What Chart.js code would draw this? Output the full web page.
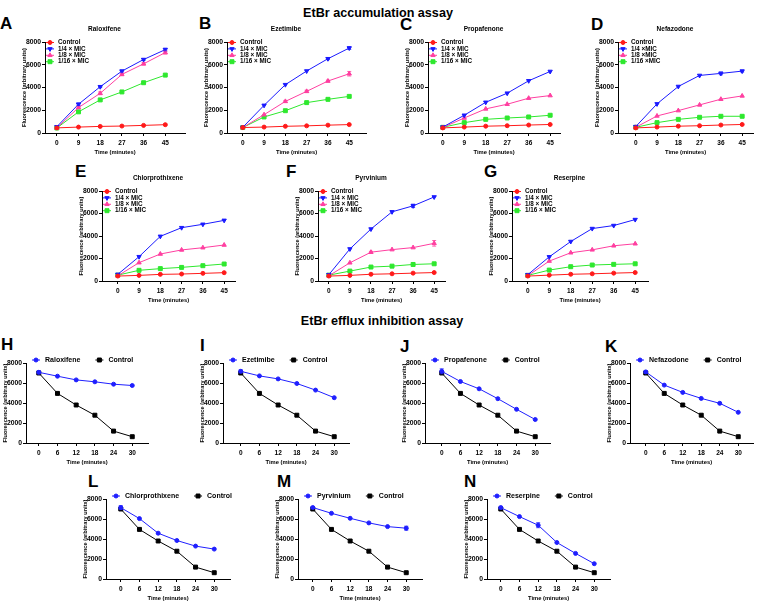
<!DOCTYPE html>
<html>
<head>
<meta charset="utf-8">
<script src="https://cdn.jsdelivr.net/npm/chart.js@4.4.1/dist/chart.umd.min.js"></script>
<style>
  body { margin: 0; background: #fff; width: 760px; height: 603px; position: relative; overflow: hidden;
         font-family: "Liberation Sans", Arial, sans-serif; }
  .t { position: absolute; font-weight: bold; color: #000; white-space: nowrap; line-height: 1; }
  .sec { font-size: 12.6px; transform: translateX(-50%); }
  .letter { font-size: 17px; }
  canvas { position: absolute; }
</style>
</head>
<body>
<div class="t sec" style="left:378px;top:7px">EtBr accumulation assay</div>
<div class="t sec" style="left:382px;top:315px">EtBr efflux inhibition assay</div>

<script>
// ---- data ----
const accTime = [0, 9, 18, 27, 36, 45];
const effTime = [0, 6, 12, 18, 24, 30];
const yTicks = [0, 2000, 4000, 6000, 8000];

const accNames = ['Control', '1/4 × MIC', '1/8 × MIC', '1/16 × MIC'];
const accNamesD = ['Control', '1/4 ×MIC', '1/8 ×MIC', '1/16 ×MIC'];

// rows: control, 1/4, 1/8, 1/16 MIC
const raloxifeneAcc = [
  [450, 520, 580, 610, 670, 730],
  [550, 2530, 4070, 5440, 6460, 7330],
  [450, 2240, 3490, 5150, 6080, 7070],
  [440, 1860, 2910, 3610, 4420, 5090]
];
const ezetimibeAcc = [
  [480, 520, 590, 630, 690, 740],
  [500, 2430, 4250, 5450, 6530, 7470],
  [480, 1610, 2780, 3660, 4570, 5210],
  [480, 1410, 1960, 2670, 2960, 3220]
];
const propafenoneAcc = [
  [450, 520, 600, 640, 700, 750],
  [520, 1560, 2700, 3500, 4590, 5410],
  [480, 1320, 2120, 2530, 3060, 3290],
  [500, 910, 1200, 1320, 1410, 1560]
];
const nefazodoneAcc = [
  [450, 520, 600, 640, 700, 750],
  [560, 2560, 4090, 5060, 5240, 5440],
  [500, 1500, 1970, 2470, 2970, 3260],
  [500, 910, 1200, 1380, 1470, 1470]
];
const chlorprothixeneAcc = [
  [440, 500, 590, 620, 680, 740],
  [590, 2160, 3970, 4740, 5040, 5390],
  [460, 1630, 2400, 2760, 2960, 3200],
  [520, 950, 1100, 1210, 1360, 1510]
];
const pyrviniumAcc = [
  [440, 500, 600, 640, 700, 750],
  [560, 2850, 4620, 6150, 6680, 7470],
  [460, 1620, 2560, 2790, 2970, 3350],
  [520, 880, 1240, 1320, 1470, 1530]
];
const reserpineAcc = [
  [440, 520, 600, 640, 700, 750],
  [560, 2150, 3510, 4660, 4930, 5460],
  [470, 1770, 2510, 2770, 3130, 3310],
  [500, 970, 1270, 1420, 1480, 1530]
];

// visible error bars (SD), same row order
const raloxifeneAccErr = [[0, 0, 0, 0, 0, 60], [0, 100, 80, 80, 80, 120], [0, 80, 120, 100, 100, 120], [0, 0, 0, 0, 0, 0]];
const ezetimibeAccErr = [[0, 0, 0, 0, 0, 0], [0, 0, 0, 0, 80, 120], [0, 0, 80, 100, 80, 200], [0, 0, 0, 0, 0, 0]];
const nefazodoneAccErr = [[0, 0, 0, 0, 0, 0], [0, 0, 0, 0, 120, 80], [0, 0, 0, 0, 0, 0], [0, 0, 0, 0, 0, 80]];
const pyrviniumAccErr = [[0, 0, 0, 0, 0, 0], [0, 0, 0, 0, 150, 0], [0, 0, 80, 0, 0, 250], [0, 0, 0, 0, 0, 0]];

const effControl = [7000, 4960, 3800, 2780, 1190, 630];
const raloxifeneEff = [7070, 6680, 6310, 6120, 5880, 5750];
const ezetimibeEff = [7170, 6710, 6410, 5950, 5290, 4530];
const propafenoneEff = [7170, 6150, 5420, 4430, 3370, 2350];
const nefazodoneEff = [7110, 5790, 5060, 4460, 3970, 3070];
const chlorprothixeneEff = [7140, 6040, 4580, 3850, 3290, 2990];
const pyrviniumEff = [7150, 6570, 6070, 5610, 5240, 5080];
const reserpineEff = [7140, 6240, 5380, 3650, 2560, 1530];

const raloxifeneEffErr = [150, 0, 0, 0, 0, 0];
const ezetimibeEffErr = [150, 0, 0, 0, 0, 0];
const propafenoneEffErr = [250, 0, 0, 0, 0, 0];
const nefazodoneEffErr = [120, 0, 0, 0, 0, 0];
const chlorprothixeneEffErr = [200, 0, 0, 0, 0, 0];
const pyrviniumEffErr = [100, 0, 0, 0, 0, 200];
const reserpineEffErr = [120, 0, 250, 0, 0, 0];

// ---- styles ----
const FONT = "'Liberation Sans', Arial, sans-serif";
Chart.defaults.font.family = FONT;
Chart.defaults.font.weight = 'bold';
Chart.defaults.color = '#000';

const accStyles = [
  { color: '#ff1a1a', pointStyle: 'circle', radius: 2, rotation: 0 },
  { color: '#1a1aff', pointStyle: 'triangle', radius: 2.5, rotation: 180 },
  { color: '#ff3fa0', pointStyle: 'triangle', radius: 2.5, rotation: 0 },
  { color: '#2ee82e', pointStyle: 'rect', radius: 2.8, rotation: 0 }
];
const effStyles = [
  { color: '#1f1fff', pointStyle: 'circle', radius: 2, rotation: 0 },
  { color: '#000000', pointStyle: 'rect', radius: 2.8, rotation: 0 }
];

// error bars from dataset.errors, in data units
const errorBars = {
  id: 'errorBars',
  afterDatasetsDraw(chart) {
    const ctx = chart.ctx, y = chart.scales.y;
    ctx.save();
    chart.data.datasets.forEach((ds, i) => {
      if (!ds.errors) return;
      chart.getDatasetMeta(i).data.forEach((pt, j) => {
        const e = ds.errors[j];
        if (!e) return;
        const v = ds.data[j].y;
        const top = y.getPixelForValue(v + e), bot = y.getPixelForValue(v - e);
        ctx.strokeStyle = ds.borderColor;
        ctx.lineWidth = 0.8;
        ctx.beginPath();
        ctx.moveTo(pt.x, top); ctx.lineTo(pt.x, bot);
        ctx.moveTo(pt.x - 2, top); ctx.lineTo(pt.x + 2, top);
        ctx.moveTo(pt.x - 2, bot); ctx.lineTo(pt.x + 2, bot);
        ctx.stroke();
      });
    });
    ctx.restore();
  }
};

// legend drawn inside / above the plot like the GraphPad original
const panelLegend = {
  id: 'panelLegend',
  afterDraw(chart, args, opts) {
    const ctx = chart.ctx, area = chart.chartArea;
    ctx.save();
    ctx.font = 'bold ' + opts.size + 'px ' + FONT;
    ctx.textBaseline = 'middle';
    let x = area.left + opts.x;
    let y = area.top + opts.y;
    chart.data.datasets.forEach(ds => {
      ctx.strokeStyle = ds.borderColor;
      ctx.fillStyle = ds.backgroundColor;
      ctx.lineWidth = ds.borderWidth;
      ctx.beginPath();
      ctx.moveTo(x - opts.half, y);
      ctx.lineTo(x + opts.half, y);
      ctx.stroke();
      Chart.helpers.drawPoint(ctx, {
        pointStyle: ds.pointStyle, radius: ds.pointRadius, rotation: ds.pointRotation, borderWidth: 1
      }, x, y);
      ctx.fillStyle = '#000';
      ctx.fillText(ds.label, x + opts.gap, y);
      if (opts.horizontal) {
        x += opts.gap + ctx.measureText(ds.label).width + opts.spacing;
      } else {
        y += opts.dy;
      }
    });
    ctx.restore();
  }
};

const YW = 23, XH = 22;

function addLetter(ch, left, top) {
  const d = document.createElement('div');
  d.className = 't letter';
  d.style.left = left + 'px';
  d.style.top = top + 'px';
  d.textContent = ch;
  document.body.appendChild(d);
}

function makeDataset(label, values, st, errors) {
  return {
    label: label, data: values, errors: errors, borderColor: st.color, backgroundColor: st.color,
    borderWidth: 1, pointStyle: st.pointStyle, pointRadius: st.radius, pointRotation: st.rotation,
    pointBorderWidth: 1, tension: 0
  };
}

function drawPanel(p, times, datasets, topSpace, title, legendOpts) {
  const last = times[times.length - 1];
  const perPx = last / (p.last - p.first);
  const xmin = -(p.first - p.axis) * perPx;
  const xmax = last + (p.right - p.last) * perPx;

  const c = document.createElement('canvas');
  const left = p.axis - YW, top = p.top - topSpace;
  c.width = p.right - left + 3;
  c.height = p.bottom - top + XH + 1;
  c.style.left = left + 'px';
  c.style.top = top + 'px';
  document.body.appendChild(c);

  new Chart(c, {
    type: 'line',
    data: { datasets: datasets.map(d => Object.assign(d, { data: d.data.map((v, i) => ({ x: times[i], y: v })) })) },
    options: {
      responsive: false, animation: false, devicePixelRatio: 1,
      layout: { padding: { top: title ? 0 : topSpace, right: 3, bottom: 1, left: 0 } },
      plugins: {
        legend: { display: false },
        tooltip: { enabled: false },
        title: title ? {
          display: true, text: title,
          font: { size: 6.5, weight: 'bold', lineHeight: 1.2 },
          padding: { top: 0, bottom: topSpace - 7.8 }
        } : { display: false },
        panelLegend: legendOpts
      },
      scales: {
        x: {
          type: 'linear', min: xmin, max: xmax,
          afterBuildTicks: s => { s.ticks = times.map(v => ({ value: v })); },
          afterFit: s => { s.height = XH; },
          grid: { drawOnChartArea: false, tickLength: 3, color: '#000', lineWidth: 1 },
          border: { color: '#000', width: 1 },
          ticks: { font: { size: 6.5, weight: 'bold' }, padding: 3, maxRotation: 0, autoSkip: false },
          title: { display: true, text: 'Time (minutes)', font: { size: 5.8, weight: 'bold', lineHeight: 1 }, padding: 0 }
        },
        y: {
          min: 0, max: 8000,
          afterBuildTicks: s => { s.ticks = yTicks.map(v => ({ value: v })); },
          afterFit: s => { s.width = YW; },
          grid: { drawOnChartArea: false, tickLength: 3, color: '#000', lineWidth: 1 },
          border: { color: '#000', width: 1 },
          ticks: { font: { size: 6.8, weight: 'bold' }, padding: 1, callback: v => String(v) },
          title: { display: true, text: 'Fluorescence (arbitrary units)', font: { size: 5.6, weight: 'bold', lineHeight: 1 }, padding: 0 }
        }
      }
    },
    plugins: [errorBars, panelLegend]
  });
}

// ---- layout (pixel geometry of each plot) ----
const accPanels = [
  { letter: 'A', lx: 0,   ly: 15,  title: 'Raloxifene',      values: raloxifeneAcc,      errors: raloxifeneAccErr, names: accNames,  axis: 45,  top: 42,  bottom: 133, first: 57,  last: 167, right: 187 },
  { letter: 'B', lx: 199, ly: 15,  title: 'Ezetimibe',       values: ezetimibeAcc,       errors: ezetimibeAccErr,  names: accNames,  axis: 227, top: 42,  bottom: 133, first: 243, last: 351, right: 368 },
  { letter: 'C', lx: 400, ly: 16,  title: 'Propafenone',     values: propafenoneAcc,     errors: null,             names: accNames,  axis: 428, top: 42,  bottom: 133, first: 443, last: 552, right: 562 },
  { letter: 'D', lx: 591, ly: 16,  title: 'Nefazodone',      values: nefazodoneAcc,      errors: nefazodoneAccErr, names: accNamesD, axis: 618, top: 42,  bottom: 133, first: 636, last: 744, right: 755 },
  { letter: 'E', lx: 75,  ly: 163, title: 'Chlorprothixene', values: chlorprothixeneAcc, errors: null,             names: accNames,  axis: 102, top: 191, bottom: 281, first: 118, last: 226, right: 237 },
  { letter: 'F', lx: 286, ly: 163, title: 'Pyrvinium',       values: pyrviniumAcc,       errors: pyrviniumAccErr,  names: accNames,  axis: 318, top: 191, bottom: 281, first: 329, last: 436, right: 447 },
  { letter: 'G', lx: 484, ly: 163, title: 'Reserpine',       values: reserpineAcc,       errors: null,             names: accNames,  axis: 512, top: 191, bottom: 281, first: 528, last: 637, right: 650 }
];

const effPanels = [
  { letter: 'H', lx: 1,   ly: 336, name: 'Raloxifene',      values: raloxifeneEff,      errors: raloxifeneEffErr,      axis: 26,  top: 363, bottom: 443, first: 39,  last: 134, right: 150 },
  { letter: 'I', lx: 200, ly: 337, name: 'Ezetimibe',       values: ezetimibeEff,       errors: ezetimibeEffErr,       axis: 223, top: 363, bottom: 443, first: 241, last: 336, right: 351 },
  { letter: 'J', lx: 400, ly: 338, name: 'Propafenone',     values: propafenoneEff,     errors: propafenoneEffErr,     axis: 425, top: 363, bottom: 443, first: 442, last: 537, right: 552 },
  { letter: 'K', lx: 605, ly: 338, name: 'Nefazodone',      values: nefazodoneEff,      errors: nefazodoneEffErr,      axis: 630, top: 363, bottom: 443, first: 646, last: 740, right: 755 },
  { letter: 'L', lx: 88,  ly: 473, name: 'Chlorprothixene', values: chlorprothixeneEff, errors: chlorprothixeneEffErr, axis: 106, top: 499, bottom: 579, first: 121, last: 216, right: 232 },
  { letter: 'M', lx: 277, ly: 473, name: 'Pyrvinium',       values: pyrviniumEff,       errors: pyrviniumEffErr,       axis: 298, top: 499, bottom: 579, first: 313, last: 408, right: 424 },
  { letter: 'N', lx: 464, ly: 473, name: 'Reserpine',       values: reserpineEff,       errors: reserpineEffErr,       axis: 487, top: 499, bottom: 579, first: 501, last: 596, right: 612 }
];

accPanels.forEach(p => {
  addLetter(p.letter, p.lx, p.ly);
  const ds = p.values.map((vals, i) => makeDataset(p.names[i], vals, accStyles[i], p.errors ? p.errors[i] : null));
  drawPanel(p, accTime, ds, 17, p.title, { size: 6.3, x: 5, y: 0.5, dy: 6.4, half: 4, gap: 8, horizontal: false });
});

effPanels.forEach(p => {
  addLetter(p.letter, p.lx, p.ly);
  const ds = [
    makeDataset(p.name, p.values, effStyles[0], p.errors),
    makeDataset('Control', effControl, effStyles[1], null)
  ];
  drawPanel(p, effTime, ds, 12, null, { size: 7, x: 10, y: -3, dy: 0, half: 4, gap: 9, spacing: 19, horizontal: true });
});
</script>
</body>
</html>
